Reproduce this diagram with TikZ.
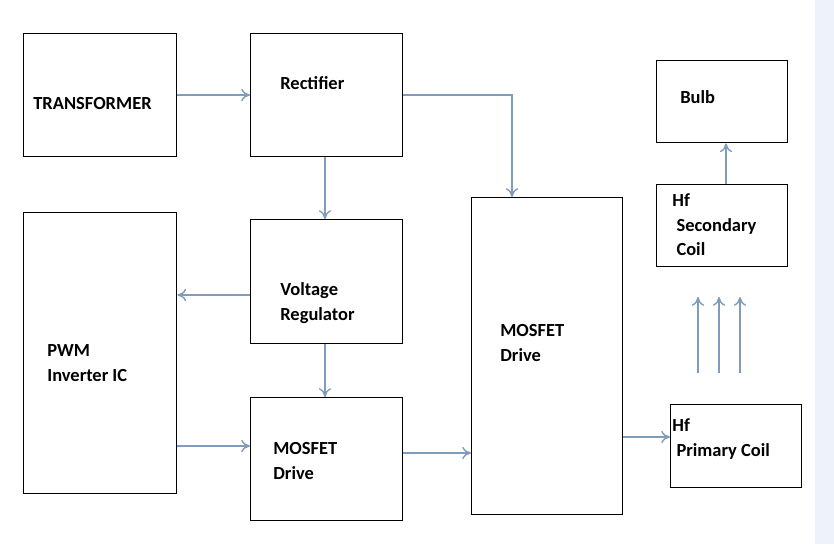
\documentclass[tikz,border=0pt]{standalone}
\usepackage{fontspec}
\setmainfont{Carlito}
\usetikzlibrary{arrows.meta}
\definecolor{arrowblue}{HTML}{7F9CBC}
\definecolor{stripgray}{HTML}{EEF2FA}
\tikzset{
    blk/.style={draw=black,thick,anchor=north west,inner sep=0pt},
    lbl/.style={anchor=west,inner sep=0pt,font=\bfseries\fontsize{10.5}{14}\selectfont,align=left},
    flow/.style={arrowblue,thick,-{To[length=5pt,width=7pt]}}
}
\begin{document}
\begin{tikzpicture}[x=0.02cm,y=-0.02cm]

    \useasboundingbox (0,0) rectangle (834,544);
    \fill[stripgray] (815,0) rectangle (834,544);

    % blocks
    \node[blk,minimum width=153*0.02cm,minimum height=123*0.02cm] (trans) at (23,33) {};
    \node[blk,minimum width=152*0.02cm,minimum height=123*0.02cm] (rect) at (250,33) {};
    \node[blk,minimum width=153*0.02cm,minimum height=281*0.02cm] (pwm) at (23,212) {};
    \node[blk,minimum width=152*0.02cm,minimum height=124*0.02cm] (vreg) at (250,219) {};
    \node[blk,minimum width=152*0.02cm,minimum height=123*0.02cm] (mdrv) at (250,397) {};
    \node[blk,minimum width=151*0.02cm,minimum height=317*0.02cm] (bigdrv) at (471,197) {};
    \node[blk,minimum width=131*0.02cm,minimum height=82*0.02cm] (bulb) at (656,60) {};
    \node[blk,minimum width=131*0.02cm,minimum height=82*0.02cm] (sec) at (656,184) {};
    \node[blk,minimum width=131*0.02cm,minimum height=83*0.02cm] (prim) at (670,404) {};

    % labels
    \node[lbl] (transtxt) at (33,104) {TRANSFORMER};
    \node[lbl] (recttxt) at (280,83) {Rectifier};
    \node[lbl] (vregtxt) at (280,303) {Voltage\\Regulator};
    \node[lbl] (pwmtxt) at (47,363) {PWM\\Inverter IC};
    \node[lbl] (mdrvtxt) at (273,461) {MOSFET\\Drive};
    \node[lbl] (bigtxt) at (500,343) {MOSFET\\Drive};
    \node[lbl] (bulbtxt) at (680,97) {Bulb};
    \node[lbl] (sectxt) at (672,225) {Hf\\\ Secondary\\\ Coil};
    \node[lbl] (primtxt) at (672,439) {Hf\\\ Primary Coil};

    % connectors
    \coordinate (bend) at (512,95);
    \draw[flow] (trans.east |- 0,95) -- (rect.west |- 0,95);
    \draw[flow] (rect.east |- bend) -- (bend) -- (bend |- bigdrv.north);
    \draw[flow] (rect.south -| 325,0) -- (vreg.north -| 325,0);
    \draw[flow] (vreg.west |- 0,295) -- (pwm.east |- 0,295);
    \draw[flow] (vreg.south -| 325,0) -- (mdrv.north -| 325,0);
    \draw[flow] (pwm.east |- 0,446) -- (mdrv.west |- 0,446);
    \draw[flow] (mdrv.east |- 0,453) -- (bigdrv.west |- 0,453);
    \draw[flow] (bigdrv.east |- 0,437) -- (prim.west |- 0,437);
    \draw[flow] (sec.north -| 726,0) -- (bulb.south -| 726,0);

    % field arrows
    \foreach \x in {698,719,740}
        \draw[flow] (\x,373) -- (\x,297);

\end{tikzpicture}
\end{document}
